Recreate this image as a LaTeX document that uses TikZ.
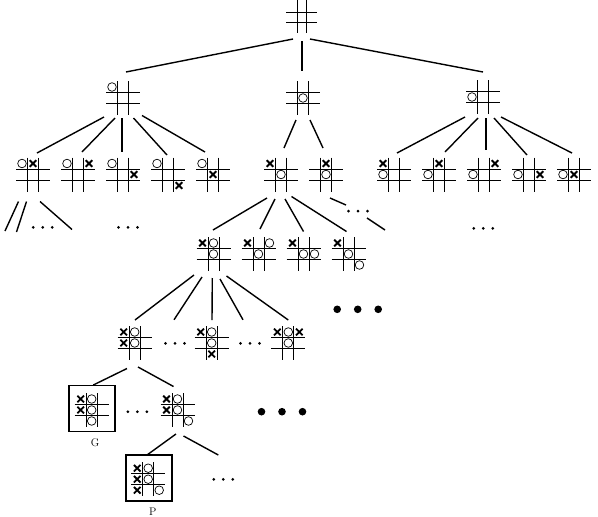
\documentclass[tikz,border=0pt]{standalone}
\usetikzlibrary{calc}
\tikzset{
  gridln/.style={line width=0.8pt},
  conn/.style={line width=1.4pt},
  xmark/.style={line width=1.8pt},
  omark/.style={line width=0.7pt},
  boardnode/.style={rectangle, inner sep=0pt, minimum size=34pt},
  framebox/.style={rectangle, draw, line width=1.8pt, inner sep=0pt, minimum size=46pt},
  lbl/.style={font=\fontsize{11}{12}\selectfont, inner sep=0pt},
}
\newcommand\bX[2]{\draw[xmark] ({#1*11-3.3},{#2*11-3.3}) -- ({#1*11+3.3},{#2*11+3.3}) ({#1*11-3.3},{#2*11+3.3}) -- ({#1*11+3.3},{#2*11-3.3});}
\newcommand\bO[2]{\draw[omark] ({#1*11},{#2*11}) circle[radius=4.3pt];}
\newcommand\tttboard[4]{%
  \node[boardnode] (#1) at (#2,#3) {};
  \begin{scope}[shift={(#2,#3)}]
    \draw[gridln] (-5.5,-17) -- (-5.5,17) (5.5,-17) -- (5.5,17) (-17,-5.5) -- (17,-5.5) (-17,5.5) -- (17,5.5);
    #4
  \end{scope}}
\newcommand\sdots[3]{\coordinate (#1) at (#2,#3);
  \fill ($(#1)+(-9.5,0)$) circle[radius=1.5pt] (#1) circle[radius=1.5pt] ($(#1)+(9.5,0)$) circle[radius=1.5pt];}
\newcommand\bdots[3]{\coordinate (#1) at (#2,#3);
  \fill ($(#1)+(-20.5,0)$) circle[radius=3.8pt] (#1) circle[radius=3.8pt] ($(#1)+(20.5,0)$) circle[radius=3.8pt];}
\newcommand\conn[6]{\draw[conn] ($(#1)+(#2,#3)$) -- ($(#4)+(#5,#6)$);}
\begin{document}
\begin{tikzpicture}[x=1pt,y=-1pt]
\useasboundingbox (0,0) rectangle (598,517);
% level 0
\node[rectangle, inner sep=0pt, minimum size=32pt] (b0) at (301.5,17) {};
\begin{scope}[shift={(301.5,17)}]
  \draw[gridln] (-4.5,-17) -- (-4.5,16) (4.5,-17) -- (4.5,16) (-15.5,-5) -- (15.5,-5) (-15.5,5.5) -- (15.5,5.5);
\end{scope}
% level 1
\tttboard{b1a}{123}{98}{\bO{-1}{-1}}
\tttboard{b1b}{303}{98}{\bO{0}{0}}
\tttboard{b1c}{483}{97}{\bO{-1}{0}}
% level 2
\tttboard{b2a}{33}{174.5}{\bO{-1}{-1}\bX{0}{-1}}
\tttboard{b2b}{78}{174.5}{\bO{-1}{-1}\bX{1}{-1}}
\tttboard{b2c}{123}{174.5}{\bO{-1}{-1}\bX{1}{0}}
\tttboard{b2d}{168}{174.5}{\bO{-1}{-1}\bX{1}{1}}
\tttboard{b2e}{213}{174.5}{\bO{-1}{-1}\bX{0}{0}}
\tttboard{b2f}{281}{174.5}{\bX{-1}{-1}\bO{0}{0}}
\tttboard{b2g}{326}{174.5}{\bX{0}{-1}\bO{0}{0}}
\tttboard{b2h}{394}{174.5}{\bX{-1}{-1}\bO{-1}{0}}
\tttboard{b2i}{439}{174.5}{\bX{0}{-1}\bO{-1}{0}}
\tttboard{b2j}{484}{174.5}{\bX{1}{-1}\bO{-1}{0}}
\tttboard{b2k}{529}{174.5}{\bX{1}{0}\bO{-1}{0}}
\tttboard{b2l}{574}{174.5}{\bX{0}{0}\bO{-1}{0}}
% level 3
\tttboard{b3a}{213.5}{254}{\bX{-1}{-1}\bO{0}{-1}\bO{0}{0}}
\tttboard{b3b}{258.5}{254}{\bX{-1}{-1}\bO{1}{-1}\bO{0}{0}}
\tttboard{b3c}{303.5}{254}{\bX{-1}{-1}\bO{0}{0}\bO{1}{0}}
\tttboard{b3d}{348.5}{254}{\bX{-1}{-1}\bO{0}{0}\bO{1}{1}}
% level 4
\tttboard{b4a}{134.7}{343}{\bX{-1}{-1}\bO{0}{-1}\bX{-1}{0}\bO{0}{0}}
\tttboard{b4b}{211.7}{343}{\bX{-1}{-1}\bO{0}{-1}\bO{0}{0}\bX{0}{1}}
\tttboard{b4c}{288.3}{343}{\bX{-1}{-1}\bO{0}{-1}\bX{1}{-1}\bO{0}{0}}
% level 5
\node[framebox] (fG) at (91.7,408.5) {};
\tttboard{b5g}{91.7}{410}{\bX{-1}{-1}\bO{0}{-1}\bX{-1}{0}\bO{0}{0}\bO{0}{1}}
\node[lbl] (lG) at (95,443) {G};
\tttboard{b5u}{177.5}{410}{\bX{-1}{-1}\bO{0}{-1}\bX{-1}{0}\bO{0}{0}\bO{1}{1}}
% level 6
\node[framebox] (fP) at (149.3,478.3) {};
\tttboard{b6p}{148.2}{479.2}{\bX{-1}{-1}\bO{0}{-1}\bX{-1}{0}\bO{0}{0}\bX{-1}{1}\bO{1}{1}}
\node[lbl] (lP) at (152.7,511.5) {P};
% dots
\sdots{d1}{42.7}{227.3}
\sdots{d2}{128}{227.3}
\sdots{d3}{483.3}{228.3}
\sdots{d4}{175}{343.3}
\sdots{d5}{250}{343.3}
\sdots{d6}{137.3}{411.7}
\sdots{d7}{223.3}{479.3}
\fill (348.5,211) circle[radius=1.5pt] (358,211) circle[radius=1.5pt] (367.5,211) circle[radius=1.5pt];
\bdots{e1}{357.7}{309.3}
\bdots{e2}{282}{411.7}
% connectors level 0 -> 1
\conn{b0}{-8.5}{22}{b1a}{3}{-26}
\conn{b0}{0.5}{24}{b1b}{-1}{-27}
\conn{b0}{8.5}{22}{b1c}{0}{-25}
% level 1 -> 2
\conn{b1a}{-19}{19}{b2a}{4}{-21.5}
\conn{b1a}{-8}{20}{b2b}{4}{-22.5}
\conn{b1a}{-1}{20}{b2c}{-1}{-22.5}
\conn{b1a}{10.5}{20}{b2d}{-1}{-19.5}
\conn{b1a}{19}{17.5}{b2e}{-8}{-22.5}
\conn{b1b}{-7}{22}{b2f}{3}{-26.5}
\conn{b1b}{7}{22}{b2g}{-3}{-26.5}
\conn{b1c}{-18}{20}{b2h}{3}{-21.5}
\conn{b1c}{-5}{21}{b2i}{6}{-22.5}
\conn{b1c}{3}{21}{b2j}{2}{-24.5}
\conn{b1c}{11}{21}{b2k}{-2}{-19.5}
\conn{b1c}{18}{20}{b2l}{-2}{-21.5}
% level 2 -> 3 and open branches
\coordinate (a1) at (5,231);
\coordinate (a2) at (16.5,232);
\coordinate (a3) at (72,229.5);
\draw[conn] ($(b2a)+(-14.5,27)$) -- (a1);
\draw[conn] ($(b2a)+(-6.5,27)$) -- (a2);
\draw[conn] ($(b2a)+(7,27)$) -- (a3);
\conn{b2f}{-14}{23.5}{b3a}{-0.5}{-24}
\conn{b2f}{-6}{24.5}{b3b}{1.5}{-25}
\conn{b2f}{4}{24.5}{b3c}{0}{-22.5}
\conn{b2f}{10.5}{22}{b3d}{-2}{-22.5}
\coordinate (g1) at (346,205);
\coordinate (g2) at (367,218);
\coordinate (g3) at (385,230);
\draw[conn] ($(b2g)+(4,23.5)$) -- (g1);
\draw[conn] (g2) -- (g3);
% level 3 -> 4
\conn{b3a}{-19.5}{21}{b4a}{0.3}{-23}
\draw[conn] ($(b3a)+(-11.5,23)$) -- ($(d4)+(-1,-23.5)$);
\conn{b3a}{-1.2}{24}{b4b}{0.3}{-23}
\draw[conn] ($(b3a)+(6.5,25)$) -- ($(d5)+(-7,-23.5)$);
\conn{b3a}{13}{22}{b4c}{0}{-23}
% level 4 -> 5
\conn{b4a}{-7.7}{25.5}{fG}{1.6}{-23.5}
\conn{b4a}{3.3}{24}{b5u}{-4}{-23.5}
% level 5 -> 6
\conn{b5u}{-1.5}{24}{fP}{-2.3}{-23.3}
\draw[conn] ($(b5u)+(6,26)$) -- ($(d7)+(-5,-24.3)$);
\end{tikzpicture}
\end{document}
